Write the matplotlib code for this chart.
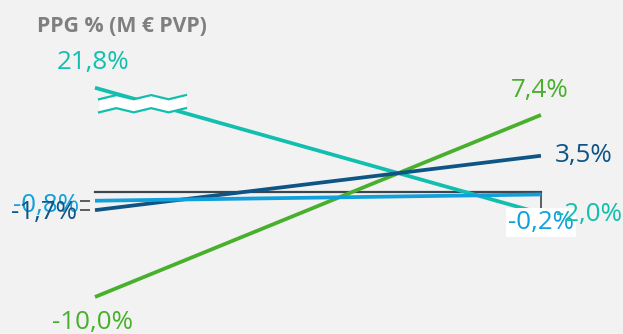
import numpy as np
import matplotlib
matplotlib.use("Agg")
import matplotlib.pyplot as plt

plt.rcParams['font.family'] = ['Open Sans', 'DejaVu Sans']

# data: two periods, one value per series
periods = [0, 1]
teal_vals = [21.8, -2.0]
green_vals = [-10.0, 7.4]
darkblue_vals = [-1.7, 3.5]
lightblue_vals = [-0.8, -0.2]
labels_left = ['21,8%', '-10,0%', '-1,7%', '-0,8%']
labels_right = ['-2,0%', '7,4%', '3,5%', '-0,2%']
break_at = 10.0  # values above are drawn on a broken scale

c_teal = '#12bfae'
c_green = '#48b02c'
c_dark = '#0e5485'
c_light = '#12a0dc'
c_axis = '#3f454c'
bg = '#f2f2f2'

fig = plt.figure(figsize=(6.23, 3.34), dpi=100, facecolor=bg)
ax = fig.add_axes([0, 0, 1, 1])
ax.set_facecolor(bg)
ax.set_xlim(-0.213, 1.184)
ax.set_ylim(-13.54, 18.39)

# zero line as bottom spine, left spine only for its small ticks
for s in ['top', 'right']:
    ax.spines[s].set_visible(False)
ax.spines['bottom'].set_position(('data', 0))
ax.spines['bottom'].set_bounds(0, 1)
ax.spines['bottom'].set_color(c_axis)
ax.spines['bottom'].set_linewidth(1.6)
ax.spines['bottom'].set_zorder(1)
ax.set_xticks([1])
ax.tick_params(axis='x', direction='out', length=13, width=1.2, color=c_axis, labelbottom=False)
ax.spines['left'].set_position(('data', -0.012))
ax.spines['left'].set_visible(False)
ax.set_yticks([lightblue_vals[0], darkblue_vals[0]])
ax.tick_params(axis='y', direction='out', length=7, width=1.2, color=c_axis, labelleft=False)

teal_draw = [min(v, break_at) for v in teal_vals]
lw = 2.7
ax.plot(periods, teal_draw, color=c_teal, lw=lw, solid_capstyle='butt', zorder=2)
ax.plot(periods, green_vals, color=c_green, lw=lw, solid_capstyle='butt', zorder=3)
ax.plot(periods, darkblue_vals, color=c_dark, lw=lw, solid_capstyle='butt', zorder=3)
ax.plot(periods, lightblue_vals, color=c_light, lw=lw, solid_capstyle='butt', zorder=3)

# axis break marker across the teal line
zx = np.linspace(0.009, 0.204, 6)
zy = np.array([0, 1, 0, 1, 0, 1]) * 0.4
top = break_at - 1.1 + zy
bot = top - 1.25
ax.fill_between(zx, bot, top, color='white', zorder=4, lw=0)
ax.plot(zx, top, color=c_teal, lw=1.6, zorder=5)
ax.plot(zx, bot, color=c_teal, lw=1.6, zorder=5)

fs = 18.7
ax.text(-0.005, break_at + 2.4, labels_left[0], color=c_teal, fontsize=fs, ha='center', va='center')
ax.text(-0.005, green_vals[0] - 2.4, labels_left[1], color=c_green, fontsize=fs, ha='center', va='center')
ax.text(-0.035, lightblue_vals[0] - 0.5, labels_left[3], color=c_light, fontsize=fs, ha='right', va='center', zorder=6)
ax.text(-0.04, darkblue_vals[0] - 0.2, labels_left[2], color=c_dark, fontsize=fs, ha='right', va='center', zorder=7)

ax.text(1.0, lightblue_vals[1] - 2.7, labels_right[3], color=c_light, fontsize=fs, ha='center', va='center',
        bbox=dict(facecolor='white', edgecolor='none', pad=1.5), zorder=6)
ax.text(1.033, teal_vals[1] - 0.1, labels_right[0], color=c_teal, fontsize=fs, ha='left', va='center', zorder=7)
ax.text(0.998, green_vals[1] + 2.3, labels_right[1], color=c_green, fontsize=fs, ha='center', va='center')
ax.text(1.03, darkblue_vals[1], labels_right[2], color=c_dark, fontsize=fs, ha='left', va='center')

fig.text(37 / 623, 1 - 26 / 334, 'PPG % (M € PVP)', color='#7f7f7f', fontsize=15.3,
         fontweight='bold', ha='left', va='center')

fig.savefig('out.png', dpi=100, facecolor=bg)
